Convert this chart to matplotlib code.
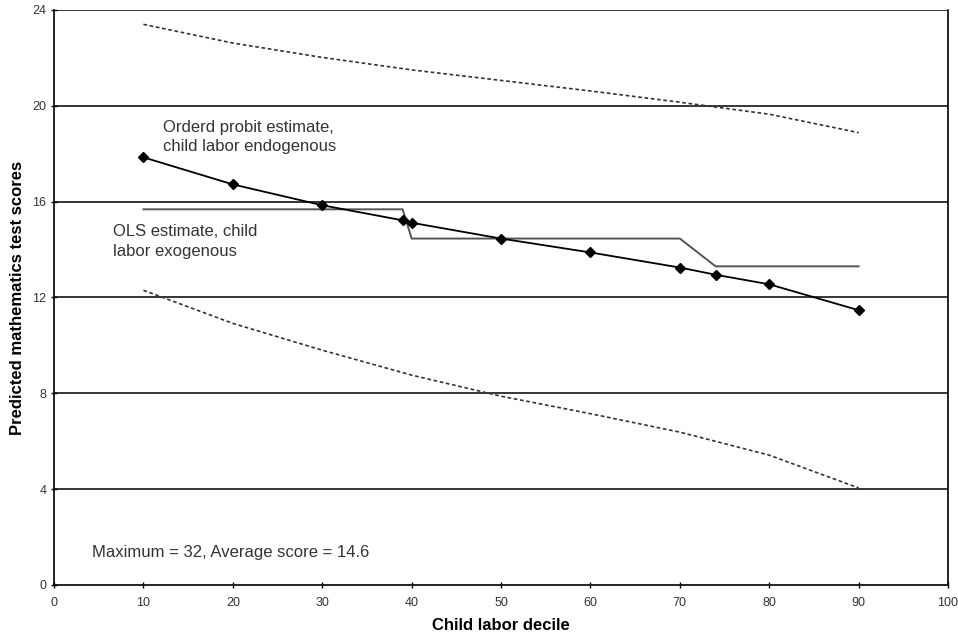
import numpy as np
import matplotlib.pyplot as plt

plt.rcParams['font.family'] = ['Liberation Sans', 'DejaVu Sans']

# ordered probit estimate (child labor endogenous)
probit_x = [10, 20, 30, 39, 40, 50, 60, 70, 74, 80, 90]
probit_y = [17.85, 16.72, 15.85, 15.22, 15.12, 14.46, 13.88, 13.25, 12.95, 12.55, 11.47]

# confidence band (dashed)
band_x = [10, 20, 30, 40, 50, 60, 70, 80, 90]
upper_y = [23.4, 22.62, 22.02, 21.5, 21.06, 20.62, 20.15, 19.65, 18.88]
lower_y = [12.3, 10.92, 9.8, 8.76, 7.88, 7.15, 6.38, 5.42, 4.05]

# OLS estimate (child labor exogenous)
ols_x = [10, 39, 40, 70, 74, 90]
ols_y = [15.68, 15.68, 14.46, 14.46, 13.3, 13.3]

fig = plt.figure(figsize=(9.58, 6.36), dpi=100)
ax = fig.add_axes([0.0564, 0.0802, 0.9332, 0.9041])

for yv in [4, 8, 12, 16, 20, 24]:
    ax.axhline(yv, color='black', lw=1.1, zorder=1)

ax.plot(band_x, upper_y, color='#333333', lw=1.2, linestyle=(0, (2.2, 1.6)), zorder=2)
ax.plot(band_x, lower_y, color='#333333', lw=1.2, linestyle=(0, (2.2, 1.6)), zorder=2)
ax.plot(ols_x, ols_y, color='#555555', lw=1.4, zorder=3)
ax.plot(probit_x, probit_y, color='black', lw=1.3, marker='D', markersize=5, zorder=4)

ax.text(12.2, 19.4, "Orderd probit estimate,\nchild labor endogenous", fontsize=12,
        color='#333333', va='top', ha='left', linespacing=1.35)
ax.text(6.6, 15.05, "OLS estimate, child\nlabor exogenous", fontsize=12,
        color='#333333', va='top', ha='left', linespacing=1.35)
ax.text(4.2, 1.35, "Maximum = 32, Average score = 14.6", fontsize=12,
        color='#333333', va='center', ha='left')

ax.set_xlim(0, 100)
ax.set_ylim(0, 24)
ax.set_xticks(np.arange(0, 101, 10))
ax.set_yticks(np.arange(0, 25, 4))
ax.tick_params(axis='both', labelsize=9, length=4, direction='inout', width=1,
               labelcolor='#333333')
ax.tick_params(axis='x', pad=7)
for side in ['left', 'right', 'bottom']:
    ax.spines[side].set_linewidth(1.2)
ax.spines['top'].set_visible(False)

ax.set_xlabel("Child labor decile", fontsize=12, fontweight='bold', labelpad=6)
ax.set_ylabel("Predicted mathematics test scores", fontsize=12, fontweight='bold', labelpad=5)

fig.savefig('out.png', dpi=100)
